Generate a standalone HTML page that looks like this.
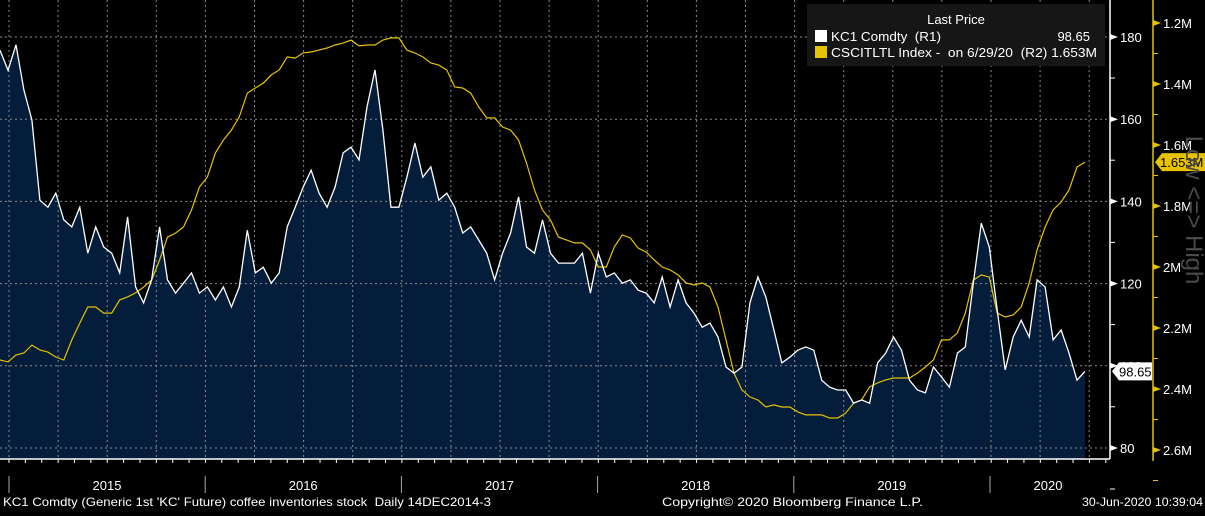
<!DOCTYPE html>
<html><head><meta charset="utf-8"><style>
html,body{margin:0;padding:0;background:#000;}
body{width:1205px;height:511px;overflow:hidden;font-family:"Liberation Sans",sans-serif;}
svg text{font-family:"Liberation Sans",sans-serif;}
</style></head><body>
<svg id="chart" width="1205" height="511" viewBox="0 0 1205 511" xmlns="http://www.w3.org/2000/svg">
<rect width="1205" height="511" fill="#000"/>
<g id="plot"></g>
<g id="axes"></g>
</svg>
<script>
const kcValues=[176.8,171.9,178.1,167.1,159.8,140.3,138.6,142.0,135.5,133.8,138.6,127.4,133.8,128.9,127.4,122.6,136.2,119.2,115.3,120.9,133.8,120.9,117.7,120.1,122.6,117.7,119.2,116.0,119.2,114.3,119.2,133.0,122.6,124.0,120.1,122.6,133.8,138.6,
143.5,147.6,142.0,138.6,143.5,151.8,153.2,150.1,163.0,172.0,157.4,138.6,138.6,145.9,154.2,145.9,148.4,140.3,142.0,138.6,132.3,133.8,130.6,127.4,120.9,127.4,132.3,141.1,128.9,127.4,135.5,127.4,125.0,125.0,125.0,
127.4,117.7,127.4,121.6,122.6,120.1,120.9,118.4,117.7,115.3,121.6,114.3,120.9,115.3,112.8,109.4,110.4,107.0,99.7,98.2,99.7,115.3,121.6,116.7,108.7,100.7,102.1,103.8,104.6,103.8,96.5,94.8,94.1,94.1,90.9,
91.7,90.9,100.7,103.1,107.0,103.8,96.5,94.1,93.4,99.7,97.3,94.8,103.1,104.6,120.1,134.7,128.9,113.6,99.0,107.0,111.1,107.0,120.9,119.2,106.3,108.7,103.1,96.5,98.65];
const invValues=[2.305,2.311,2.289,2.282,2.256,2.272,2.279,2.295,2.305,2.239,2.184,2.131,2.131,2.151,2.151,2.108,2.098,2.085,2.066,2.043,1.977,1.902,1.889,1.869,1.813,1.738,1.705,1.626,1.584,1.551,1.508,1.430,1.413,1.397,1.370,1.354,1.311,1.315,
1.298,1.295,1.289,1.282,1.272,1.266,1.256,1.275,1.272,1.272,1.256,1.249,1.249,1.289,1.298,1.311,1.331,1.338,1.354,1.410,1.413,1.430,1.475,1.511,1.511,1.541,1.551,1.584,1.659,1.748,1.813,1.846,1.902,1.911,1.921,
1.921,1.944,2.000,2.000,1.934,1.895,1.905,1.938,1.951,1.977,2.000,2.010,2.026,2.052,2.059,2.052,2.066,2.131,2.239,2.348,2.403,2.426,2.436,2.459,2.452,2.459,2.459,2.475,2.485,2.485,2.485,2.495,2.495,2.479,2.446,
2.436,2.393,2.380,2.370,2.364,2.364,2.364,2.348,2.328,2.305,2.239,2.239,2.216,2.151,2.043,2.026,2.033,2.151,2.164,2.157,2.131,2.052,1.944,1.869,1.813,1.787,1.748,1.672,1.656];
const leftTicks=[80,100,120,140,160,180];
const rightTicks=[1.2,1.4,1.6,1.8,2.0,2.2,2.4,2.6];
const rightTickLabels=["1.2M","1.4M","1.6M","1.8M","2M","2.2M","2.4M","2.6M"];
const years=["2015","2016","2017","2018","2019","2020"];

const NS="http://www.w3.org/2000/svg";
const plot=document.getElementById('plot'), axes=document.getElementById('axes');
function el(tag,attrs,parent){const e=document.createElementNS(NS,tag);for(const k in attrs)e.setAttribute(k,attrs[k]);parent.appendChild(e);return e;}
const X0=0,X1=1085,BOTTOM=459;
const xOf=i=>X0+(X1-X0)*i/(kcValues.length-1);
const xOf2=i=>X0+(X1-X0)*i/(invValues.length-1);
const yL=v=>37+(180-v)*4.11;
const yR=v=>23+(v-1.2)*305;

let d='M'+xOf(0)+','+BOTTOM;
kcValues.forEach((v,i)=>{d+=' L'+xOf(i).toFixed(1)+','+yL(v).toFixed(1);});
d+=' L'+xOf(kcValues.length-1)+','+BOTTOM+' Z';
const area=el('path',{d:d,fill:'#031d3a'},plot);



leftTicks.forEach(t=>{
  const g=el('line',{x1:0,x2:1110,y1:yL(t),y2:yL(t),stroke:'#8a8a8a','stroke-width':1,'stroke-dasharray':'2,3'},plot);
  
  
});
for(let k=0;k<23;k++){
  const x=9+k*49.1;
  const g=el('line',{x1:x,x2:x,y1:0,y2:BOTTOM,stroke:'#8a8a8a','stroke-width':1,'stroke-dasharray':'2,3'},plot);
  
  
}

const yl=el('polyline',{points:invValues.map((v,i)=>xOf2(i).toFixed(1)+','+yR(v).toFixed(1)).join(' '),fill:'none',stroke:'#e6c200','stroke-width':1.2},plot);


const wl=el('polyline',{points:kcValues.map((v,i)=>xOf(i).toFixed(1)+','+yL(v).toFixed(1)).join(' '),fill:'none',stroke:'#ffffff','stroke-width':1.3},plot);



el('line',{x1:0,x2:1110,y1:BOTTOM,y2:BOTTOM,stroke:'#fff','stroke-width':1.5},axes);
el('line',{x1:1110,x2:1110,y1:0,y2:BOTTOM,stroke:'#fff','stroke-width':1.5},axes);
el('line',{x1:1153,x2:1153,y1:0,y2:461,stroke:'#e6c200','stroke-width':1.5},axes);
for(let k=0;k<70;k++){const x=9+k*16.37;if(x>1110)break;el('line',{x1:x,x2:x,y1:BOTTOM,y2:BOTTOM+4,stroke:'#fff'},axes);}
leftTicks.forEach(t=>{
  const y=yL(t);
  el('path',{d:`M1110,${y-3} L1118,${y} L1110,${y+3} Z`,fill:'#fff'},axes);
  const tx=el('text',{x:1120,y:y+5,fill:'#fff','font-size':13},axes);tx.textContent=t;
  
  
  el('line',{x1:1110,x2:1115,y1:y+41,y2:y+41,stroke:'#fff'},axes);
});
rightTicks.forEach((t,i)=>{
  const y=yR(t);
  el('path',{d:`M1153,${y-3} L1161,${y} L1153,${y+3} Z`,fill:'#e6c200'},axes);
  const tx=el('text',{x:1163,y:y+5,fill:'#fff','font-size':13},axes);tx.textContent=rightTickLabels[i];
  
  
  el('line',{x1:1153,x2:1158,y1:y+30.5,y2:y+30.5,stroke:'#e6c200'},axes);
});
years.forEach((yr,i)=>{
  const x=9+i*196.2;
  el('line',{x1:x,x2:x,y1:476,y2:493,stroke:'#aaa'},axes);
  const cx=i<5?x+98:1048;
  const tx=el('text',{x:cx,y:490,fill:'#fff','font-size':13,'text-anchor':'middle'},axes);tx.textContent=yr;
  
  
});
const ly=yL(kcValues[kcValues.length-1]);
el('path',{d:`M1112,${ly} L1119,${ly-9} L1152,${ly-9} L1152,${ly+9} L1119,${ly+9} Z`,fill:'#fff'},axes);
const lt=el('text',{x:1119,y:ly+5,fill:'#000','font-size':13},axes);lt.textContent='98.65';


const ry=yR(invValues[invValues.length-1]);
el('path',{d:`M1155,${ry} L1162,${ry-9} L1205,${ry-9} L1205,${ry+9} L1162,${ry+9} Z`,fill:'#e6c200'},axes);
const rt=el('text',{x:1160,y:ry+5,fill:'#000','font-size':13},axes);rt.textContent='1.653M';


</script>
<svg style="position:absolute;left:0;top:0" width="1205" height="511">
<text x="1186" y="210" fill="#4a4a4a" font-size="24" text-anchor="middle" transform="rotate(90 1186 210)">Low &lt;=&gt; High</text>
<g>
<rect x="807" y="4" width="298" height="62" fill="#161616"/>
<text x="956" y="24" fill="#fff" font-size="13" text-anchor="middle">Last Price</text>
<rect x="815" y="30" width="12" height="12" fill="#fff"/>
<text x="831" y="41" fill="#fff" font-size="13" xml:space="preserve" textLength="110" lengthAdjust="spacingAndGlyphs">KC1 Comdty  (R1)</text>
<text x="1090" y="41" fill="#fff" font-size="13" text-anchor="end">98.65</text>
<rect x="815" y="46" width="12" height="12" fill="#e6c200"/>
<text x="831" y="57" fill="#fff" font-size="13" xml:space="preserve" textLength="266" lengthAdjust="spacingAndGlyphs">CSCITLTL Index -  on 6/29/20  (R2) 1.653M</text>
</g>
<text x="3" y="506" fill="#fff" font-size="12" xml:space="preserve" textLength="488" lengthAdjust="spacingAndGlyphs">KC1 Comdty (Generic 1st 'KC' Future) coffee inventories stock  Daily 14DEC2014-3</text>
<text x="662" y="506" fill="#fff" font-size="12" textLength="261" lengthAdjust="spacingAndGlyphs">Copyright© 2020 Bloomberg Finance L.P.</text>
<text x="1082" y="506" fill="#fff" font-size="12" textLength="121" lengthAdjust="spacingAndGlyphs">30-Jun-2020 10:39:04</text>
</svg>
</body></html>
